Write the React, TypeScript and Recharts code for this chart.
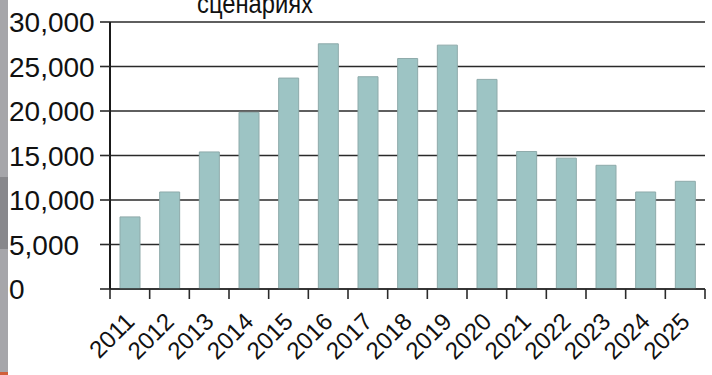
import React from 'react';
import { BarChart, Bar, XAxis, YAxis, CartesianGrid } from 'recharts';

// Annual values, 2011–2025
const years = ['2011', '2012', '2013', '2014', '2015', '2016', '2017', '2018', '2019', '2020', '2021', '2022', '2023', '2024', '2025'];
const values = [8100, 10900, 15400, 19850, 23700, 27550, 23850, 25900, 27400, 23550, 15450, 14700, 13900, 10900, 12100];
const yTicks = [0, 5000, 10000, 15000, 20000, 25000, 30000];
const titleText = 'сценариях';

const data = years.map((year, i) => ({ year, value: values[i] }));

const FONT = '"Liberation Sans", Arial, sans-serif';
const INK = '#2a2a2a';

const fmt = (v: number) => v.toLocaleString('en-US');

const YTick = (props: any) => {
  const { x, y, payload } = props;
  return (
    <text x={x - 89} y={y} dy="0.36em" textAnchor="start" fontFamily={FONT} fontSize={28} fill="#111">
      {fmt(payload.value)}
    </text>
  );
};

// Category label rotated -45°, plus tick marks on the band boundaries
const XTick = (props: any) => {
  const { x, y, payload, index } = props;
  const half = payload.offset || 0;
  const isLast = index === years.length - 1;
  return (
    <g>
      <line x1={x - half} x2={x - half} y1={y} y2={y + 10} stroke={INK} strokeWidth={1.6} />
      {isLast && <line x1={x + half} x2={x + half} y1={y} y2={y + 10} stroke={INK} strokeWidth={1.6} />}
      <g transform={`translate(${x + 6},${y + 34})`}>
        <text textAnchor="end" transform="rotate(-45)" fontFamily={FONT} fontSize={24} fill="#111">
          {payload.value}
        </text>
      </g>
    </g>
  );
};

export default function App() {
  return (
    <div style={{ position: 'absolute', left: 0, top: 0, width: 712, height: 375, background: '#fff', overflow: 'hidden' }}>
      <BarChart width={712} height={375} data={data} margin={{ top: 22, right: 7, left: 0, bottom: 0 }}>
        <CartesianGrid horizontal vertical={false} stroke={INK} strokeWidth={1.6} />
        <XAxis
          dataKey="year"
          height={86}
          axisLine={{ stroke: INK, strokeWidth: 1.6 }}
          tickLine={false}
          tickSize={0}
          tickMargin={0}
          interval={0}
          tick={<XTick />}
        />
        <YAxis
          domain={[0, 30000]}
          ticks={yTicks}
          width={110}
          tickSize={10}
          tickMargin={2}
          axisLine={{ stroke: '#1a1a1a', strokeWidth: 2 }}
          tickLine={{ stroke: INK, strokeWidth: 1.6 }}
          tick={<YTick />}
        />
        <Bar dataKey="value" barSize={20} fill="#9dc4c4" stroke="#8eaaaa" strokeWidth={1} isAnimationActive={false} />
      </BarChart>
      <svg width={712} height={40} style={{ position: 'absolute', left: 0, top: 0 }}>
        <text x={255} y={13} textAnchor="middle" fontFamily={FONT} fontSize={27} fill="#111" textLength={116} lengthAdjust="spacingAndGlyphs">
          {titleText}
        </text>
      </svg>
      <div style={{ position: 'absolute', left: 0, top: 0, width: 8, height: 375, background: '#a6a6aa' }} />
      <div style={{ position: 'absolute', left: 0, top: 177, width: 8, height: 72, background: '#88888c' }} />
      <div style={{ position: 'absolute', left: 0, top: 372, width: 8, height: 3, background: '#d0603a' }} />
    </div>
  );
}
